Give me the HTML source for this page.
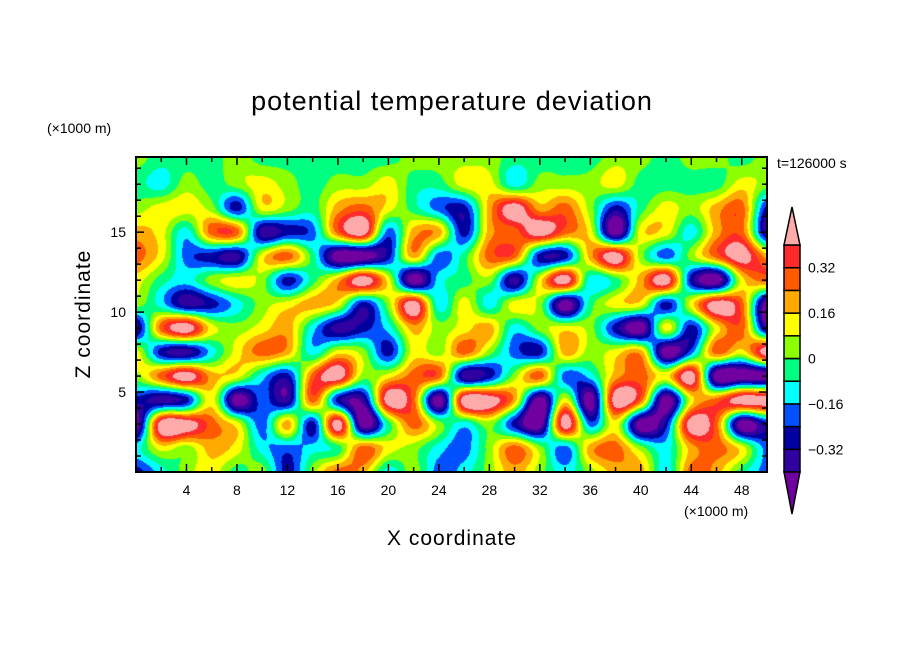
<!DOCTYPE html>
<html><head><meta charset="utf-8"><style>
body{margin:0;background:#fff;width:904px;height:654px;position:relative;overflow:hidden;font-family:"Liberation Sans",sans-serif;}
.t{position:absolute;color:#000;white-space:nowrap;}
</style></head><body>
<div class="t" style="left:0;width:904px;text-align:center;top:86px;font-size:27px;letter-spacing:1px">potential temperature deviation</div>
<div class="t" style="left:47px;top:120px;font-size:14px">(×1000 m)</div>
<div class="t" style="left:777px;top:155px;font-size:14px">t=126000 s</div>
<div class="t" style="left:684px;top:503px;font-size:14px">(×1000 m)</div>
<div class="t" style="left:0;width:904px;text-align:center;top:527px;font-size:21px;letter-spacing:1px">X coordinate</div>
<div class="t" style="left:-16px;top:302px;width:200px;text-align:center;font-size:21px;letter-spacing:1px;transform:rotate(-90deg)">Z coordinate</div>
<canvas id="field" width="631" height="315" style="position:absolute;left:136px;top:157px"></canvas>
<svg id="ov" width="904" height="654" style="position:absolute;left:0;top:0"></svg>
<script>
const zRows=[19.7,18,16.5,15,13.5,12,10.5,9,7.5,6,4.5,3,1.5,0];
const xCols=[0,2,4,6,8,10,12,14,16,18,20,22,24,26,28,30,32,34,36,38,40,42,44,46,48,50];
const row0=[0.04,-0.04,-0.04,-0.04,0.04,-0.04,-0.04,-0.04,-0.04,-0.04,-0.04,0.04,0.04,0.04,0.04,-0.04,-0.04,-0.04,-0.04,0.04,0.04,-0.04,0.04,0.04,-0.04,0.04];
const row1=[-0.04,-0.12,0.04,-0.04,0.04,0.12,0.04,-0.04,0.04,0.04,0.12,-0.04,-0.04,0.12,0.12,-0.12,0.04,0.04,0.04,0.12,-0.04,-0.04,-0.04,-0.04,0.12,0.04];
const row2=[0.04,0.12,0.12,0.04,-0.28,0.12,0.04,-0.04,0.2,0.28,0.12,-0.04,-0.2,-0.28,0.2,0.48,0.2,0.28,0.04,-0.28,-0.04,0.12,0.04,0.2,0.28,-0.28];
const row3=[0.2,0.12,-0.12,0.28,0.28,-0.36,-0.28,-0.2,0.28,0.48,-0.2,0.2,0.2,-0.28,0.2,0.28,0.48,0.28,0.12,-0.48,0.12,0.12,-0.12,0.2,0.28,-0.36];
const row4=[0.28,0.12,-0.2,-0.28,-0.36,0.12,0.28,-0.04,-0.48,-0.48,-0.28,0.2,-0.2,-0.04,0.28,0.28,-0.28,-0.28,0.2,0.48,0.04,-0.2,0.04,0.28,0.48,0.2];
const row5=[0.12,-0.04,-0.12,0.04,0.12,0.04,-0.28,-0.04,0.2,0.48,0.12,-0.48,-0.12,-0.04,0.04,-0.36,0.12,0.48,-0.12,-0.04,0.2,0.48,-0.28,-0.48,0.12,0.28];
const row6=[0.04,-0.12,-0.36,-0.28,-0.12,0.04,0.12,0.2,0.12,-0.28,0.04,0.48,-0.12,0.12,-0.12,0.12,0.04,-0.48,-0.04,0.12,0.12,-0.28,0.12,0.48,0.28,-0.48];
const row7=[-0.36,0.28,0.48,0.12,0.04,0.12,0.2,-0.12,-0.36,-0.28,-0.12,0.2,0.04,0.12,0.2,-0.12,0.04,0.12,0.04,-0.28,-0.48,0.12,-0.28,0.12,0.28,-0.36];
const row8=[0.12,-0.28,-0.36,-0.12,0.12,0.28,0.2,-0.12,0.12,0.04,-0.28,0.12,0.04,0.28,0.04,-0.2,-0.28,0.2,0.04,0.12,0.2,-0.48,-0.2,0.28,0.12,0.48];
const row9=[0.04,0.28,0.48,0.2,0.12,-0.12,-0.28,0.28,0.48,0.04,0.12,0.28,0.28,-0.36,-0.28,0.04,0.28,-0.2,-0.12,0.2,0.28,0.12,0.48,-0.48,-0.48,-0.48];
const row10=[-0.28,-0.36,-0.28,0.12,-0.48,-0.2,-0.36,0.28,-0.28,-0.36,0.48,0.28,-0.48,0.48,0.48,0.2,-0.48,0.12,-0.48,0.48,0.28,-0.48,0.12,0.28,0.48,0.48];
const row11=[-0.48,0.48,0.48,0.28,0.12,-0.2,0.2,-0.28,0.48,-0.48,-0.04,0.28,0.04,-0.12,0.04,-0.28,-0.48,0.48,-0.2,0.12,-0.48,-0.28,0.48,0.28,-0.48,-0.28];
const row12=[-0.12,0.12,0.04,0.2,0.12,-0.12,-0.2,-0.12,-0.04,0.28,0.12,0.04,-0.12,-0.2,0.04,0.28,0.04,-0.2,0.2,0.28,0.04,-0.12,0.2,0.28,0.12,-0.2];
const row13=[-0.28,-0.12,0.04,0.12,-0.04,0.04,-0.28,0.04,0.28,0.2,-0.12,0.04,-0.2,-0.12,0.04,0.2,0.04,-0.12,0.04,0.2,0.2,-0.12,0.28,0.2,-0.04,-0.2];
const field=[row0,row1,row2,row3,row4,row5,row6,row7,row8,row9,row10,row11,row12,row13];
const levels=[-0.4,-0.32,-0.24,-0.16,-0.08,0,0.08,0.16,0.24,0.32,0.4];
const colors=["#7000a0","#3000a0","#0000a0","#0050ff","#00ffff","#00ff80","#8cff00","#ffff00","#ffaa00","#ff5a00","#ff2a2a","#ffaaaa"];
const cbLabels=["0.32","0.16","0","−0.16","−0.32"];
const cbLabelVals=[0.32,0.16,0,-0.16,-0.32];
const xTicks=[4,8,12,16,20,24,28,32,36,40,44,48];
const yTicks=[5,10,15];

const X0=136,X1=767,Y0=472,Y1=157,XMAX=50,ZMAX=19.7;
const sx=x=>X0+(x/XMAX)*(X1-X0);
const sz=z=>Y0-(z/ZMAX)*(Y0-Y1);
function rgb(h){return [parseInt(h.substr(1,2),16),parseInt(h.substr(3,2),16),parseInt(h.substr(5,2),16)];}
const crgb=colors.map(rgb);
function lev(v){let i=0;while(i<levels.length&&v>=levels[i])i++;return i;}
function fidx(arr,v){for(let i=0;i<arr.length-1;i++){const a=arr[i],b=arr[i+1];if(v>=Math.min(a,b)&&v<=Math.max(a,b))return i+(v-a)/(b-a);}return arr.length-1;}
function cr(p0,p1,p2,p3,t){return 0.5*((2*p1)+(-p0+p2)*t+(2*p0-5*p1+4*p2-p3)*t*t+(-p0+3*p1-3*p2+p3)*t*t*t);}
function g(j,i){j=Math.max(0,Math.min(field.length-1,j));i=Math.max(0,Math.min(xCols.length-1,i));return field[j][i];}
(function(){
const cv=document.getElementById('field');const ctx=cv.getContext('2d');
const W=cv.width,H=cv.height;const img=ctx.createImageData(W,H);
for(let py=0;py<H;py++){
 const z=ZMAX*(1-(py+0.5)/H);const fj=fidx(zRows,z);const j=Math.min(Math.floor(fj),field.length-2);const tz=fj-j;
 for(let px=0;px<W;px++){
  const x=XMAX*(px+0.5)/W;const fi=fidx(xCols,x);const i=Math.min(Math.floor(fi),xCols.length-2);const tx=fi-i;
  const r=[];for(let m=-1;m<=2;m++)r.push(cr(g(j+m,i-1),g(j+m,i),g(j+m,i+1),g(j+m,i+2),tx));
  const v=cr(r[0],r[1],r[2],r[3],tz);
  const col=crgb[lev(v)];const k=(py*W+px)*4;
  img.data[k]=col[0];img.data[k+1]=col[1];img.data[k+2]=col[2];img.data[k+3]=255;
 }}
ctx.putImageData(img,0,0);
})();
const NS='http://www.w3.org/2000/svg';const ov=document.getElementById('ov');
function mk(t,at){const e=document.createElementNS(NS,t);for(const k in at)e.setAttribute(k,at[k]);ov.appendChild(e);return e;}
let fr=mk('rect',{x:X0,y:Y1,width:X1-X0,height:Y0-Y1,fill:'none',stroke:'#000','stroke-width':2});


for(let x=2;x<50;x+=2){const L=(x%4===0)?8:5;
 mk('line',{x1:sx(x),x2:sx(x),y1:Y0,y2:Y0-L,stroke:'#000','stroke-width':1.5});
 mk('line',{x1:sx(x),x2:sx(x),y1:Y1,y2:Y1+L,stroke:'#000','stroke-width':1.5});}
for(let z=1;z<20;z++){const L=(z%5===0)?8:5;
 mk('line',{x1:X0,x2:X0+L,y1:sz(z),y2:sz(z),stroke:'#000','stroke-width':1.5});
 mk('line',{x1:X1,x2:X1-L,y1:sz(z),y2:sz(z),stroke:'#000','stroke-width':1.5});}
xTicks.forEach(v=>{const t=mk('text',{x:sx(v),y:495,'text-anchor':'middle','font-size':14,'font-family':'Liberation Sans, sans-serif'});t.textContent=v;
 
 });
yTicks.forEach(v=>{const t=mk('text',{x:126,y:sz(v)+5,'text-anchor':'end','font-size':14,'font-family':'Liberation Sans, sans-serif'});t.textContent=v;
 
 });
const CB0=472,CB1=245,CBX=784,CBW=16;const nb=levels.length-1;const bh=(CB0-CB1)/nb;
const cbY=v=>CB0-((v-levels[0])/(levels[nb]-levels[0]))*(CB0-CB1);
for(let i=1;i<=nb;i++){const r=mk('rect',{x:CBX,y:cbY(levels[i]),width:CBW,height:bh,fill:colors[i],stroke:'#000','stroke-width':1.5});
 
 }
let tu=mk('polygon',{points:`${CBX},${CB1} ${CBX+CBW},${CB1} ${CBX+CBW/2},207`,fill:colors[colors.length-1],stroke:'#000','stroke-width':1.5});


let td=mk('polygon',{points:`${CBX},${CB0} ${CBX+CBW},${CB0} ${CBX+CBW/2},514`,fill:colors[0],stroke:'#000','stroke-width':1.5});


cbLabels.forEach((s,i)=>{const t=mk('text',{x:808,y:cbY(cbLabelVals[i])+5,'font-size':14,'font-family':'Liberation Sans, sans-serif'});t.textContent=s;
 
 });
</script>
</body></html>
